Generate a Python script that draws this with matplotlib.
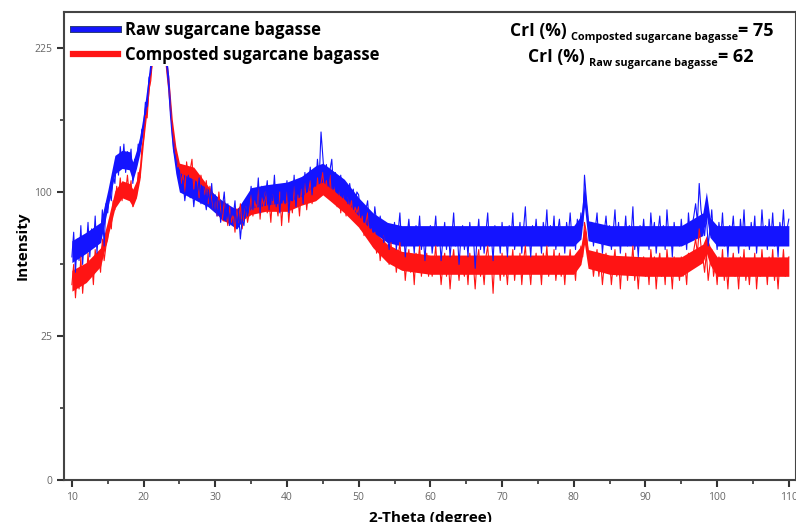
import numpy as np
import matplotlib
matplotlib.use("Agg")
import matplotlib.pyplot as plt
from matplotlib.lines import Line2D
import matplotlib.patheffects as pe

plt.rcParams['font.family'] = ['Open Sans', 'DejaVu Sans']

# 2-theta grid, 0.25 degree steps from 10 to 110
two_theta = np.arange(10.0, 110.001, 0.25)

# intensities (the noisy band, point by point)
raw = [
    60, 74, 52, 70, 58, 78, 56, 72, 64, 80, 60, 76, 66, 84, 62, 78, 70, 88, 66, 92,
    86, 100, 94, 112, 106, 126, 112, 134, 118, 136, 114, 130, 120, 132, 106, 124, 118, 136, 130, 148,
    150, 172, 168, 195, 200, 222, 232, 240, 246, 244, 240, 234, 222, 205, 186, 160, 142, 130, 124, 112,
    116, 100, 108, 94, 104, 112, 96, 106, 90, 102, 98, 110, 92, 104, 96, 88, 100, 92, 106, 88,
    98, 84, 94, 80, 90, 100, 82, 92, 78, 88, 84, 94, 76, 86, 70, 82, 78, 90, 84, 94,
    104, 88, 100, 92, 110, 86, 104, 94, 98, 108, 88, 102, 94, 112, 90, 100, 86, 104, 96, 92,
    108, 86, 100, 94, 112, 90, 104, 98, 110, 92, 114, 100, 106, 118, 98, 112, 104, 124, 110, 146,
    126, 108, 120, 104, 116, 124, 102, 114, 108, 98, 112, 96, 108, 100, 92, 106, 96, 102, 90, 100,
    98, 84, 92, 80, 88, 94, 78, 86, 74, 90, 80, 72, 84, 76, 68, 80, 72, 64, 76, 70,
    80, 64, 74, 86, 66, 76, 60, 72, 82, 68, 74, 62, 78, 70, 84, 64, 72, 58, 76, 68,
    78, 62, 72, 84, 66, 74, 58, 70, 80, 64, 76, 60, 72, 86, 66, 74, 56, 70, 78, 64,
    74, 60, 80, 68, 72, 54, 70, 82, 64, 76, 62, 74, 86, 66, 72, 58, 78, 68, 74, 62,
    80, 66, 74, 60, 78, 70, 86, 64, 74, 68, 80, 62, 76, 90, 68, 74, 60, 78, 70, 82,
    68, 76, 62, 80, 72, 88, 66, 78, 70, 84, 64, 74, 82, 68, 76, 62, 80, 72, 86, 70,
    76, 64, 82, 72, 86, 78, 112, 96, 84, 70, 80, 66, 76, 86, 68, 78, 62, 74, 84, 70,
    78, 64, 74, 88, 68, 80, 62, 76, 70, 84, 66, 78, 72, 90, 64, 74, 60, 78, 70, 82,
    68, 76, 64, 86, 72, 80, 62, 74, 84, 68, 78, 64, 88, 72, 76, 60, 80, 70, 74, 66,
    82, 68, 76, 64, 86, 72, 78, 84, 92, 80, 106, 88, 80, 72, 84, 66, 76, 88, 70, 74,
    64, 80, 70, 86, 66, 76, 60, 78, 72, 84, 68, 74, 62, 82, 70, 88, 66, 76, 64, 80,
    70, 84, 62, 76, 68, 88, 72, 78, 64, 82, 70, 86, 66, 74, 60, 80, 72, 88, 68, 76, 82,
]
composted = [
    46, 56, 40, 52, 44, 60, 42, 54, 48, 62, 50, 58, 46, 64, 54, 60, 52, 70, 58, 66,
    70, 82, 76, 94, 88, 104, 96, 110, 94, 106, 100, 112, 98, 108, 90, 102, 96, 114, 110, 132,
    140, 160, 158, 184, 192, 214, 228, 238, 244, 242, 240, 232, 220, 200, 184, 164, 150, 134, 128, 118,
    120, 106, 114, 100, 122, 110, 116, 124, 102, 114, 108, 96, 112, 104, 98, 108, 92, 104, 96, 88,
    96, 84, 100, 88, 82, 94, 86, 78, 90, 80, 86, 74, 88, 80, 92, 76, 84, 90, 80, 86,
    98, 84, 94, 88, 104, 82, 96, 90, 100, 86, 94, 80, 98, 88, 92, 84, 100, 78, 94, 88,
    100, 80, 94, 86, 104, 90, 98, 84, 102, 94, 106, 88, 100, 108, 92, 102, 96, 110, 98, 106,
    114, 98, 108, 100, 112, 94, 104, 98, 90, 102, 86, 98, 92, 84, 96, 88, 94, 82, 90, 86,
    90, 76, 84, 72, 80, 86, 70, 76, 66, 74, 62, 70, 58, 66, 72, 60, 64, 56, 68, 58,
    64, 52, 60, 68, 54, 62, 48, 58, 64, 52, 60, 46, 62, 56, 66, 50, 58, 54, 62, 50,
    60, 50, 56, 66, 52, 58, 46, 56, 62, 50, 58, 44, 56, 64, 52, 58, 48, 60, 54, 50,
    58, 46, 62, 54, 56, 44, 58, 64, 50, 56, 46, 60, 66, 52, 58, 42, 60, 54, 58, 48,
    62, 50, 56, 46, 60, 54, 64, 48, 58, 52, 62, 46, 58, 66, 52, 56, 46, 60, 54, 62,
    52, 58, 46, 62, 54, 66, 50, 58, 52, 64, 48, 56, 62, 50, 58, 46, 60, 54, 64, 52,
    58, 48, 62, 56, 66, 60, 80, 74, 64, 54, 60, 50, 58, 64, 50, 58, 46, 56, 62, 52,
    58, 46, 56, 64, 50, 60, 44, 58, 52, 62, 48, 58, 54, 66, 48, 56, 44, 58, 52, 60,
    50, 58, 46, 64, 54, 60, 44, 56, 62, 50, 58, 46, 64, 54, 56, 44, 60, 52, 56, 48,
    60, 50, 56, 46, 62, 54, 58, 64, 70, 62, 76, 66, 60, 52, 62, 48, 56, 64, 50, 56,
    46, 60, 52, 64, 48, 56, 44, 58, 54, 62, 50, 56, 44, 60, 52, 64, 48, 56, 46, 58,
    52, 62, 44, 56, 50, 64, 52, 58, 46, 60, 52, 64, 48, 56, 44, 58, 52, 64, 50, 56, 60,
]

# solid core of each noisy band (lower / upper edge), read at these 2-theta values
band_x = [10, 12, 14, 15, 16, 17, 18, 18.5, 19, 19.5,
          20, 20.5, 21, 21.5, 22, 22.5, 23, 23.5, 24, 24.5,
          25, 27, 29, 31, 33, 35, 37, 40, 42, 44,
          45, 46, 48, 50, 52, 54, 56, 60, 70, 80,
          81, 81.5, 82, 85, 90, 95, 98, 98.5, 99, 100,
          105, 110]
raw_low = [57, 62, 68, 89, 113, 117, 116, 108, 117, 129,
           148, 173, 203, 228, 237, 233, 218, 183, 133, 113,
           100, 95, 90, 82, 76, 89, 91, 93, 97, 105,
           107, 103, 95, 84, 74, 68, 66, 66, 66, 66,
           70, 90, 69, 66, 66, 66, 72, 84, 71, 66,
           66, 66]
raw_high = [69, 74, 80, 101, 127, 131, 130, 122, 131, 143,
            162, 187, 217, 242, 251, 247, 232, 197, 147, 127,
            114, 109, 102, 94, 88, 103, 105, 107, 111, 119,
            121, 117, 109, 96, 86, 80, 78, 78, 78, 78,
            84, 106, 81, 78, 78, 78, 86, 100, 83, 78,
            78, 78]
comp_low = [43, 47, 55, 71, 89, 96, 94, 90, 96, 109,
            138, 165, 198, 225, 234, 231, 213, 183, 143, 122,
            109, 106, 92, 81, 79, 85, 87, 87, 91, 94,
            98, 94, 86, 77, 65, 57, 53, 51, 51, 51,
            56, 67, 54, 51, 50, 50, 57, 62, 56, 50,
            50, 50]
comp_high = [53, 57, 65, 81, 101, 108, 106, 102, 108, 121,
             152, 179, 212, 239, 248, 245, 227, 197, 157, 134,
             121, 118, 104, 91, 89, 95, 97, 97, 101, 106,
             110, 106, 98, 87, 75, 67, 63, 61, 61, 61,
             66, 79, 64, 61, 60, 60, 67, 72, 66, 60,
             60, 60]

labels = ['Raw sugarcane bagasse', 'Composted sugarcane bagasse']
cri_names = ['Composted sugarcane bagasse', 'Raw sugarcane bagasse']
cri_values = [75, 62]
y_ticks = [0, 25, 100, 225]
x_ticks = list(range(10, 111, 10))

blue = '#1414ff'
red = '#ff1414'

fig = plt.figure(figsize=(7.96, 5.22), dpi=100)
ax = fig.add_axes([64 / 796, 42 / 522, 732 / 796, 468 / 522])

ax.fill_between(band_x, comp_low, comp_high, color=red, lw=0)
ax.plot(two_theta, composted, color=red, lw=0.8)
ax.fill_between(band_x, raw_low, raw_high, color=blue, lw=0)
ax.plot(two_theta, raw, color=blue, lw=0.8)

ax.set_yscale('function', functions=(lambda v: np.sqrt(np.clip(v, 0, None)), np.square))
ax.set_xlim(8.9, 111.0)
ax.set_ylim(0, 264)
ax.set_yticks(y_ticks)
ax.set_yticks([6.25, 56.25, 156.25], minor=True)
ax.set_xticks(x_ticks)
ax.set_xticks(list(range(15, 111, 10)), minor=True)
ax.tick_params(which='major', length=5, width=1.5, color='#333333',
               labelsize=7.5, labelcolor='#666666')
ax.tick_params(which='minor', length=3, width=1.2, color='#333333')
for s in ax.spines.values():
    s.set_color('#444444')
    s.set_linewidth(1.5)

ax.set_ylabel('Intensity', fontsize=11, fontweight='bold', labelpad=3)
ax.set_xlabel('2-Theta (degree)', fontsize=11, fontweight='bold', labelpad=6)

blue_h = Line2D([], [], color=blue, lw=3.5,
                path_effects=[pe.Stroke(linewidth=5, foreground='#2a3a7a'), pe.Normal()])
red_h = Line2D([], [], color=red, lw=4.5)
leg = ax.legend([blue_h, red_h], labels, loc='upper left', bbox_to_anchor=(0.0, 1.0),
                borderaxespad=0.4,
                frameon=True, framealpha=1, edgecolor='none', fancybox=False,
                handlelength=2.7, handletextpad=0.4, borderpad=0.15, labelspacing=0.4,
                prop={'weight': 'bold', 'size': 12})
leg.set_zorder(5)

# CrI annotations: main text, subscript, value
starts = [(0.609, 0.9487), (0.634, 0.893)]
for (x0, y0), name, val in zip(starts, cri_names, cri_values):
    t1 = ax.text(x0, y0, 'CrI (%)', transform=ax.transAxes, ha='left', va='baseline',
                 fontsize=12.5, fontweight='bold')
    t2 = ax.annotate(name, xy=(1, 0), xycoords=t1, xytext=(3, -2), textcoords='offset points',
                     ha='left', va='bottom', fontsize=7.8, fontweight='bold')
    ax.annotate(f'= {val}', xy=(1, 0), xycoords=(t2, t1), xytext=(0, 0),
                textcoords='offset points', ha='left', va='bottom',
                fontsize=13, fontweight='bold')

fig.savefig('out.png', dpi=100)
